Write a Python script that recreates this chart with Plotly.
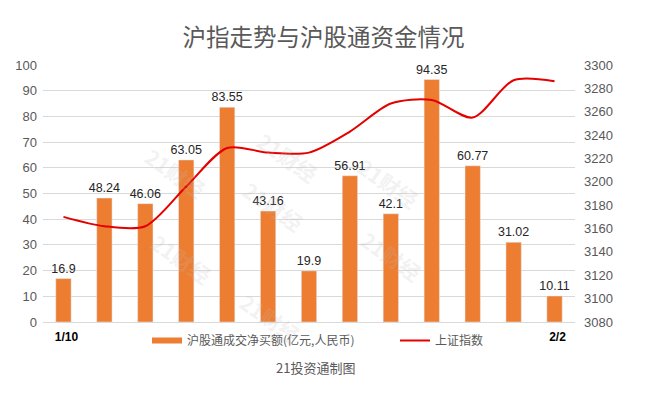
import plotly.graph_objects as go

x_index = list(range(13))
tick_positions = [0, 12]
tick_labels = ["1/10", "2/2"]
net_buy = [16.9, 48.24, 46.06, 63.05, 83.55, 43.16, 19.9, 56.91, 42.1, 94.35, 60.77, 31.02, 10.11]
sh_index = [3170, 3162, 3162, 3196, 3229, 3225, 3225, 3243, 3267, 3270, 3255, 3287, 3286]
left_ticks = [0, 10, 20, 30, 40, 50, 60, 70, 80, 90, 100]
right_ticks = [3080, 3100, 3120, 3140, 3160, 3180, 3200, 3220, 3240, 3260, 3280, 3300]
watermark_px = [(137, 173), (287, 123), (273, 240), (143, 293), (427, 183), (430, 290), (270, 352)]

FONT = "Liberation Sans, Arial, Noto Sans CJK SC, sans-serif"
CJK = "Noto Sans CJK SC, Liberation Sans, sans-serif"
BAR_COLOR = "#ED7D31"
LINE_COLOR = "#E50000"

W, H = 647, 398
L, R, T, B = 43, 72, 65, 76
pw, ph = W - L - R, H - T - B


def py2paper(py):
    return (T + ph - py) / ph


def px2paper(px):
    return (px - L) / pw


fig = go.Figure()
fig.add_trace(go.Bar(
    x=x_index, y=net_buy, name="沪股通成交净买额(亿元,人民币)", showlegend=False,
    marker=dict(color=BAR_COLOR),
    text=[f"{v:g}" for v in net_buy], textposition="outside",
    textfont=dict(family=FONT, size=12.5, color="#262626"),
    constraintext="none", cliponaxis=False,
))
fig.add_trace(go.Scatter(
    x=x_index, y=sh_index, name="上证指数", yaxis="y2", showlegend=False,
    mode="lines", line=dict(color=LINE_COLOR, width=2, shape="spline", smoothing=0.8),
))
# legend entries (Excel style: flat rectangle for bars, short line for index)
fig.add_trace(go.Scatter(x=[None], y=[None], mode="lines", name="沪股通成交净买额(亿元,人民币)",
                         line=dict(color=BAR_COLOR, width=6), legend="legend"))
fig.add_trace(go.Scatter(x=[None], y=[None], mode="lines", name="上证指数", yaxis="y2",
                         line=dict(color=LINE_COLOR, width=2), legend="legend2"))

annots = [dict(text="21投资通制图", x=px2paper(315), xref="paper", y=py2paper(367), yref="paper",
               showarrow=False, yanchor="middle", xanchor="center",
               font=dict(family=CJK, size=13, color="#595959"))]
for (px, py) in watermark_px:
    annots.append(dict(text="21财经", x=px2paper(px), xref="paper", y=py2paper(py), yref="paper",
                       showarrow=False, textangle=35,
                       font=dict(family=CJK, size=21, color="rgba(190,190,190,0.2)", weight="bold")))

legend_common = dict(orientation="h", xanchor="left", yanchor="top", y=py2paper(326),
                     font=dict(family=CJK, size=12, color="#595959"), itemwidth=30,
                     bgcolor="rgba(0,0,0,0)")

fig.update_layout(
    width=W, height=H,
    margin=dict(l=L, r=R, t=T, b=B),
    paper_bgcolor="white", plot_bgcolor="white",
    bargap=0.625,
    title=dict(text="沪指走势与沪股通资金情况", x=0.5, xanchor="center", y=(H - 38) / H, yanchor="middle",
               font=dict(family=CJK, size=23.5, color="#595959")),
    xaxis=dict(tickmode="array", tickvals=tick_positions, ticktext=tick_labels,
               range=[-0.5, 12.5], showgrid=False, showline=True, linecolor="#d9d9d9",
               ticks="", tickfont=dict(family=FONT, size=12, color="#000000", weight="bold"),
               ticklabeloverflow="allow", ticklabelstandoff=4, ticklabelshift=3),
    yaxis=dict(range=[0, 100], tickvals=left_ticks, showgrid=True, gridcolor="#d9d9d9",
               zeroline=False, tickfont=dict(family=FONT, size=13, color="#595959"),
               ticklabelstandoff=5),
    yaxis2=dict(range=[3080, 3300], tickvals=right_ticks, overlaying="y", side="right",
                showgrid=False, zeroline=False, tickfont=dict(family=FONT, size=13, color="#595959"),
                ticklabelstandoff=8),
    legend=dict(legend_common, x=px2paper(147)),
    legend2=dict(legend_common, x=px2paper(395)),
    showlegend=True,
    annotations=annots,
)

fig.write_html("out.html", config={"displayModeBar": False},
               post_script="document.body.style.margin='0';document.body.style.padding='0';")
